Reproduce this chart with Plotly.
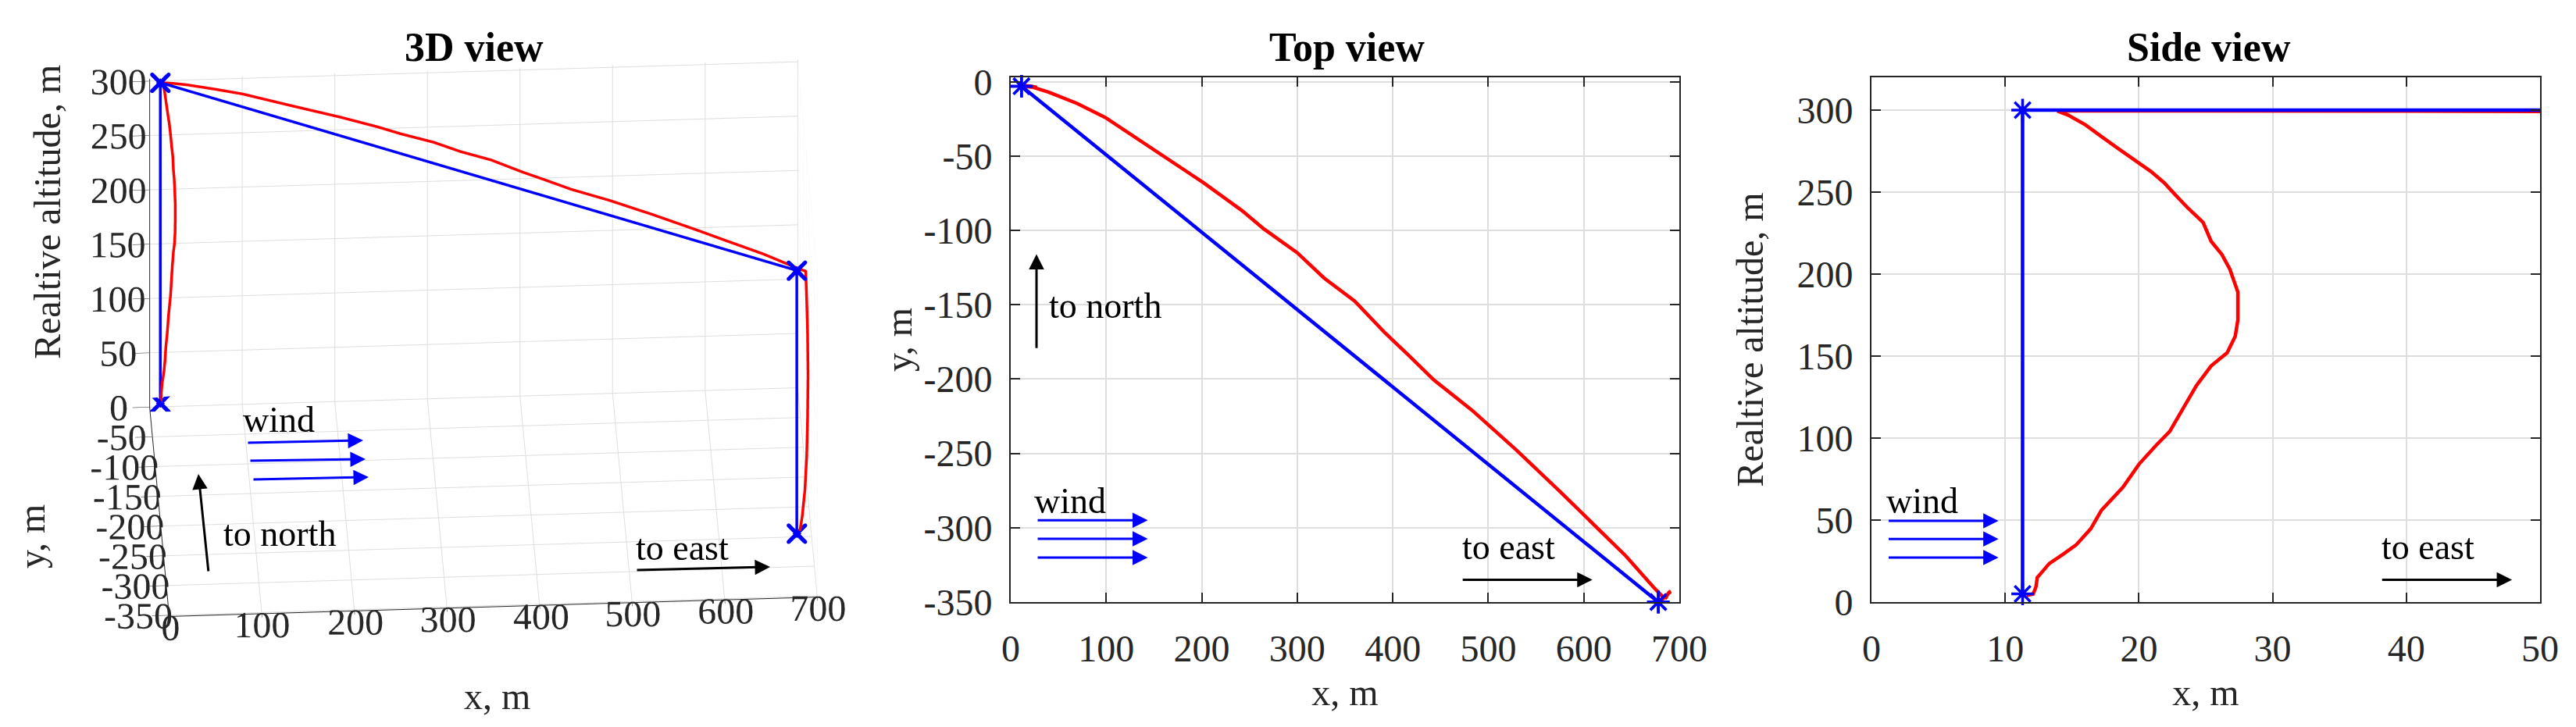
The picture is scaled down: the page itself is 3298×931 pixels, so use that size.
import plotly.graph_objects as go

# ---------------- data ----------------
# planned path (blue): climb, straight leg, descent
blue_x = [11.3, 11.3, 678.0, 678.0]
blue_y = [-3.0, -3.0, -350.0, -350.0]
blue_z = [5.0, 300.0, 300.0, 58.0]

# actual flight (red) - climb part
asc_x = [11.6, 12.1, 12.3, 12.4, 12.7, 13.3, 14.3, 15.3, 16.4, 17.2, 18.8, 20.0,
         21.3, 22.3, 23.3, 24.3, 25.4, 26.6, 27.2, 27.4, 27.4, 27.0, 26.8, 26.2,
         25.4, 24.8, 23.7, 22.7, 21.9, 20.9, 19.6, 18.4, 17.2, 16.0, 14.7, 13.9]
asc_y = [-3.0, -3.0, -3.1, -3.1, -3.2, -3.2, -3.3, -3.3, -3.4, -3.4, -3.5, -3.5,
         -3.6, -3.6, -3.7, -3.7, -3.7, -3.8, -3.8, -3.8, -3.8, -3.7, -3.7, -3.6,
         -3.5, -3.4, -3.3, -3.2, -3.1, -3.0, -2.9, -2.8, -2.7, -2.6, -2.5, -2.5]
asc_z = [4.0, 5.0, 9.3, 15.0, 17.8, 23.5, 29.0, 34.8, 44.7, 56.0, 70.0, 84.0,
         95.7, 104.0, 118.0, 132.0, 144.0, 152.0, 162.0, 172.0, 189.0, 197.5, 203.0, 212.0,
         220.0, 231.5, 240.0, 248.5, 255.6, 262.6, 269.7, 276.8, 283.9, 291.0, 297.0, 299.4]

# actual flight (red) - cruise leg at altitude
cru_x = [14.5, 25.0, 40.0, 70.0, 99.0, 150.0, 202.0, 242.0, 265.0, 300.0, 328.0, 360.0,
         392.0, 415.0, 443.0, 483.0, 529.0, 575.0, 604.0, 644.0, 673.0, 682.0, 686.0, 688.0]
cru_y = [-2.6, -4.0, -7.0, -14.7, -24.0, -46.0, -68.0, -86.6, -99.0, -115.0, -132.0, -147.5,
         -169.0, -183.0, -200.6, -221.0, -247.5, -275.6, -294.0, -319.0, -340.0, -346.0, -347.0, -344.0]
cru_z = [299.5, 299.5, 299.4, 298.8, 298.8, 298.8, 298.9, 298.9, 299.0, 299.0, 299.0, 299.0,
         299.0, 299.0, 299.0, 299.0, 299.0, 299.0, 299.0, 299.0, 299.0, 298.8, 298.0, 296.0]

# actual flight (red) - descent
des_x = [689.0, 690.0, 690.5, 690.0, 689.0, 687.0, 684.0, 681.0]
des_y = [-343.5, -343.0, -343.0, -343.5, -344.0, -345.0, -347.0, -349.0]
des_z = [270.0, 240.0, 200.0, 160.0, 125.0, 95.0, 72.0, 58.0]

red_x = asc_x + cru_x + des_x
red_y = asc_y + cru_y + des_y
red_z = asc_z + cru_z + des_z

# tick labels
x_ticks = [0, 100, 200, 300, 400, 500, 600, 700]
y_ticks = [0, -50, -100, -150, -200, -250, -300, -350]
y_labels = ["0", "-50", "-100", "-150", "-200", "-250", "-300", "-350"]
z_ticks = [0, 50, 100, 150, 200, 250, 300]
xs_ticks = [0, 10, 20, 30, 40, 50]

# ---------------- styling ----------------
W, H = 3298, 931
FONT = "Liberation Serif"
TXT = "#262626"
GRID = "#dedede"
BLUE = "#0000ff"
RED = "#ff0000"


def px(x):
    return x / W


def py(y):
    return 1 - y / H


fig = go.Figure()

# ---------------- 3D view ----------------
fig.add_trace(go.Scatter3d(x=red_x, y=red_y, z=red_z, mode="lines",
                           line=dict(color=RED, width=7), showlegend=False, scene="scene"))
fig.add_trace(go.Scatter3d(x=blue_x, y=blue_y, z=blue_z, mode="lines",
                           line=dict(color=BLUE, width=7), showlegend=False, scene="scene"))
for sym in ["cross", "x"]:
    fig.add_trace(go.Scatter3d(x=blue_x, y=blue_y, z=blue_z, mode="markers",
                               marker=dict(color=BLUE, size=6, symbol=sym, line=dict(width=0)),
                               showlegend=False, scene="scene"))

ax3 = dict(showbackground=True, backgroundcolor="white", gridcolor=GRID, gridwidth=2,
           showline=True, linecolor=TXT, linewidth=2, zeroline=False, showspikes=False,
           tickangle=0, tickfont=dict(family=FONT, size=24, color=TXT), ticks="outside",
           tickcolor=TXT, ticklen=8, title=dict(text=""))

# ---------------- top view ----------------
fig.add_trace(go.Scatter(x=red_x, y=red_y, mode="lines", line=dict(color=RED, width=4.5),
                         showlegend=False, xaxis="x", yaxis="y"))
fig.add_trace(go.Scatter(x=blue_x, y=blue_y, mode="lines+markers", line=dict(color=BLUE, width=4.5),
                         marker=dict(symbol="asterisk-open", size=24, color=BLUE,
                                     line=dict(color=BLUE, width=3.5)),
                         cliponaxis=False, showlegend=False, xaxis="x", yaxis="y"))

# ---------------- side view ----------------
fig.add_trace(go.Scatter(x=red_x, y=red_z, mode="lines", line=dict(color=RED, width=4.5),
                         showlegend=False, xaxis="x2", yaxis="y2"))
fig.add_trace(go.Scatter(x=blue_x, y=blue_z, mode="lines", line=dict(color=BLUE, width=4.5),
                         showlegend=False, xaxis="x2", yaxis="y2"))
fig.add_trace(go.Scatter(x=blue_x[:2], y=blue_z[:2], mode="markers",
                         marker=dict(symbol="asterisk-open", size=24, color=BLUE,
                                     line=dict(color=BLUE, width=3.5)),
                         cliponaxis=False, showlegend=False, xaxis="x2", yaxis="y2"))

ax2 = dict(showline=True, linecolor=TXT, linewidth=2, mirror="ticks", ticks="inside",
           ticklen=12, tickwidth=2, tickcolor=TXT, showgrid=True, gridcolor=GRID, gridwidth=2,
           zeroline=False, automargin=False, tickfont=dict(family=FONT, size=48, color=TXT),
           title_font=dict(family=FONT, size=48, color=TXT))

top_dom_y = [py(771), py(99)]

fig.update_layout(
    width=W, height=H, margin=dict(l=0, r=0, t=0, b=0, autoexpand=False),
    paper_bgcolor="white", plot_bgcolor="white",
    scene=dict(
        domain=dict(x=[0.0153, 0.3603], y=[0.0, 1.0]),
        aspectmode="manual", aspectratio=dict(x=1.785, y=1.019, z=1.095),
        camera=dict(eye=dict(x=-0.086, y=-1.628, z=1.034), up=dict(x=0, y=0, z=1),
                    center=dict(x=0, y=0, z=-0.085), projection=dict(type="orthographic")),
        xaxis=dict(ax3, range=[0, 700], tickvals=x_ticks, ticklen=22),
        yaxis=dict(ax3, range=[-352, 0], tickvals=y_ticks, ticktext=y_labels),
        zaxis=dict(ax3, range=[0, 302], tickvals=z_ticks),
    ),
    xaxis=dict(ax2, domain=[px(1294), px(2150)], range=[0, 700], tickvals=x_ticks, anchor="y",
               ticklabelstandoff=16, title=dict(text="x, m", standoff=14)),
    yaxis=dict(ax2, domain=top_dom_y, range=[-350, 3], tickvals=y_ticks, ticktext=y_labels,
               anchor="x", ticklabelstandoff=12, title=dict(text="y, m", standoff=0)),
    xaxis2=dict(ax2, domain=[px(2396), px(3252)], range=[0, 50], tickvals=xs_ticks, anchor="y2",
                ticklabelstandoff=16, title=dict(text="x, m", standoff=14)),
    yaxis2=dict(ax2, domain=top_dom_y, range=[0, 320], tickvals=z_ticks,
                anchor="x2", ticklabelstandoff=12, title=dict(text="Realtive altitude, m", standoff=28)),
)

ann = []
C = dict(xanchor="center", yanchor="middle")
# titles
for cx, t in [(607, "3D view"), (1724, "Top view"), (2828, "Side view")]:
    ann.append(dict(C, x=px(cx), y=py(60), xref="paper", yref="paper", text="<b>%s</b>" % t,
                    showarrow=False, font=dict(family=FONT, size=52, color="black")))

LBL_FONT = dict(family=FONT, size=48, color=TXT)
# 3D view axis labels
ann.append(dict(C, x=px(60), y=py(272), xref="paper", yref="paper", text="Realtive altitude, m",
                textangle=-90, showarrow=False, font=LBL_FONT))
ann.append(dict(C, x=px(40), y=py(687), xref="paper", yref="paper", text="y, m",
                textangle=-90, showarrow=False, font=LBL_FONT))
ann.append(dict(C, x=px(636), y=py(891), xref="paper", yref="paper", text="x, m",
                showarrow=False, font=LBL_FONT))

ANN_FONT = dict(family=FONT, size=46, color="black")
ARW = dict(showarrow=True, arrowhead=2, arrowsize=1.3, arrowwidth=3, text="", standoff=0)

# 3D view overlays (paper, pixel offsets)
for hx, hy, dx, dy in [(465, 564, -149, 3), (468, 588, -149, 2), (472, 611, -149, 3)]:
    ann.append(dict(ARW, x=px(hx), y=py(hy), xref="paper", yref="paper", ax=dx, ay=dy,
                    arrowcolor=BLUE))
ann.append(dict(ARW, x=px(254), y=py(607), xref="paper", yref="paper", ax=13, ay=126,
                arrowcolor="black"))
ann.append(dict(ARW, x=px(986), y=py(726), xref="paper", yref="paper", ax=-172, ay=4,
                arrowcolor="black"))
for cx, cy, t in [(357, 537, "wind"), (358, 683, "to north"), (873, 701, "to east")]:
    ann.append(dict(C, x=px(cx), y=py(cy), xref="paper", yref="paper", text=t, showarrow=False,
                    font=ANN_FONT))

# top view overlays (data coordinates)
for yy in [-295, -307.5, -320]:
    ann.append(dict(ARW, x=143.5, y=yy, ax=27, ay=yy, xref="x", yref="y", axref="x", ayref="y",
                    arrowcolor=BLUE))
ann.append(dict(ARW, x=27, y=-116, ax=27, ay=-180, xref="x", yref="y", axref="x", ayref="y",
                arrowcolor="black"))
ann.append(dict(ARW, x=609, y=-335, ax=472, ay=-335, xref="x", yref="y", axref="x", ayref="y",
                arrowcolor="black"))
ann.append(dict(C, x=62, y=-282, xref="x", yref="y", text="wind", showarrow=False, font=ANN_FONT))
ann.append(dict(x=38.5, y=-150.6, xref="x", yref="y", text="to north", xanchor="left",
                yanchor="middle", showarrow=False, font=ANN_FONT))
ann.append(dict(C, x=521, y=-313, xref="x", yref="y", text="to east", showarrow=False, font=ANN_FONT))

# side view overlays (data coordinates)
for zz in [49.5, 38.5, 27.2]:
    ann.append(dict(ARW, x=9.5, y=zz, ax=1.2, ay=zz, xref="x2", yref="y2", axref="x2", ayref="y2",
                    arrowcolor=BLUE))
ann.append(dict(ARW, x=47.9, y=13.6, ax=38.1, ay=13.6, xref="x2", yref="y2", axref="x2", ayref="y2",
                arrowcolor="black"))
ann.append(dict(C, x=3.8, y=61.7, xref="x2", yref="y2", text="wind", showarrow=False, font=ANN_FONT))
ann.append(dict(C, x=41.6, y=33.4, xref="x2", yref="y2", text="to east", showarrow=False, font=ANN_FONT))

fig.update_layout(annotations=ann)
fig.write_html("out.html", config={"displayModeBar": False},
               post_script="document.body.style.margin='0';")
